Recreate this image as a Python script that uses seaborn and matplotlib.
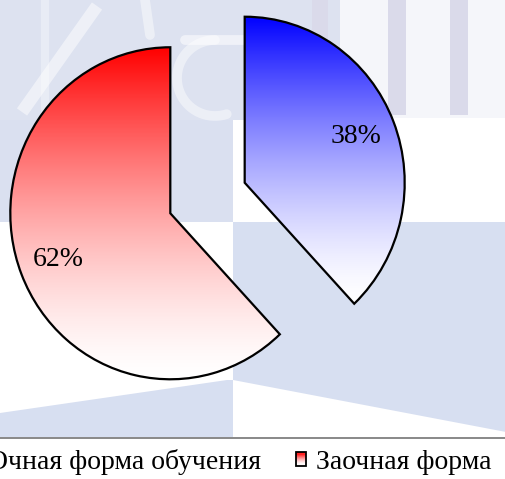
import numpy as np
import matplotlib
matplotlib.use("Agg")
import matplotlib.pyplot as plt
import seaborn as sns
from matplotlib.patches import Rectangle, Polygon
from matplotlib.legend_handler import HandlerBase
from matplotlib.colors import LinearSegmentedColormap, to_rgb

# ---- data ----
categories = ["Очная форма обучения", "Заочная форма"]
shares = [38, 62]
top_colors = ["#0000FF", "#FF0000"]

sns.set_theme(style="white")
plt.rcParams['font.family'] = ['Liberation Serif', 'DejaVu Serif']
plt.rcParams['text.color'] = 'black'

W, H = 506, 479
fig = plt.figure(figsize=(W / 100, H / 100), dpi=100)
fig.patch.set_facecolor("white")

# ---- faint watermark background (pixel coordinates) ----
bg = fig.add_axes([0, 0, 1, 1])
bg.set_xlim(0, W)
bg.set_ylim(H, 0)
bg.axis("off")
light = "#D7DFF1"
bg.add_patch(Rectangle((0, 0), 340, 120, facecolor="#DDE2F0", edgecolor="none"))
bg.add_patch(Rectangle((340, 0), 166, 118, facecolor="#F5F6FA", edgecolor="none"))
for x0, w in [(312, 16), (388, 18), (450, 18)]:
    bg.add_patch(Rectangle((x0, 0), w, 115, facecolor="#DADAEA", edgecolor="none"))
bg.add_patch(Rectangle((0, 120), 233, 102, facecolor="#DAE0F0", edgecolor="none"))
bg.add_patch(Polygon([(233, 222), (506, 222), (506, 432), (233, 380)],
                     facecolor=light, edgecolor="none"))
bg.add_patch(Polygon([(0, 413), (227, 380), (233, 380), (233, 437), (0, 437)],
                     facecolor=light, edgecolor="none"))
# white letter strokes of the watermark
bg.plot([22, 97], [112, 6], color="white", lw=9, alpha=0.5, solid_capstyle="butt")
bg.plot([45, 45], [0, 115], color="white", lw=6, alpha=0.35)
bg.plot([145, 150], [0, 35], color="white", lw=7, alpha=0.45)
bg.plot([185, 250], [40, 40], color="white", lw=7, alpha=0.55)
t = np.linspace(np.pi * 0.5, np.pi * 1.6, 40)
bg.plot(215 + 38 * np.cos(t), 78 - 38 * np.sin(t), color="white", lw=7, alpha=0.45)
bg.axhline(438, color="#7F7F7F", lw=1.3)

# ---- pie ----
ax = fig.add_axes([0, 0, 1, 1])
ax.patch.set_alpha(0)
wedges, texts, autotexts = ax.pie(
    shares, explode=[0.25, 0.25], startangle=90, counterclock=False,
    autopct="%1.0f%%", pctdistance=0.75,
    wedgeprops=dict(edgecolor="black", linewidth=1.6),
    textprops=dict(fontsize=20, color="black"))
ax.set_aspect("auto")
ax.axis("off")


def grad_cmap(col):
    c = np.array(to_rgb(col))
    s = np.linspace(0, 1, 256)[:, None] ** 1.5  # 0 -> white, 1 -> full colour
    rgb = 1 - s * (1 - c)
    return LinearSegmentedColormap.from_list("g", rgb)


grad = np.linspace(0, 1, 256).reshape(256, 1)
cmaps = []
for wdg, col in zip(wedges, top_colors):
    cmap = grad_cmap(col)
    cmaps.append(cmap)
    v = wdg.get_path().vertices
    xmin, ymin = v.min(axis=0)
    xmax, ymax = v.max(axis=0)
    im = ax.imshow(grad, extent=(xmin, xmax, ymin, ymax), origin="lower",
                   aspect="auto", cmap=cmap, zorder=1)
    im.set_clip_path(wdg)
    wdg.set_facecolor("none")
    wdg.set_zorder(2)
for tx in autotexts:
    tx.set_zorder(3)
ax.set_xlim(-207.5 / 160, (W - 207.5) / 160)
ax.set_ylim((198 - H) / 166, 198 / 166)


class GradHandler(HandlerBase):
    def __init__(self, cmap):
        super().__init__()
        self.cmap = cmap

    def create_artists(self, legend, orig_handle, xdescent, ydescent,
                       width, height, fontsize, trans):
        arts = []
        n = 12
        for i in range(n):
            y0 = -ydescent + height * i / n
            arts.append(Rectangle((-xdescent, y0), width, height / n,
                                  facecolor=self.cmap(i / (n - 1)),
                                  edgecolor="none", transform=trans))
        arts.append(Rectangle((-xdescent, -ydescent), width, height,
                              facecolor="none", edgecolor="black",
                              linewidth=1.3, transform=trans))
        return arts


leg = fig.legend(
    wedges, categories, ncol=2, loc="center right",
    bbox_to_anchor=(492 / W, 1 - 462 / H), frameon=False, fontsize=20,
    handlelength=0.36, handleheight=0.36, handletextpad=0.36,
    columnspacing=1.26, borderpad=0, borderaxespad=0,
    handler_map={wedges[0]: GradHandler(cmaps[0]), wedges[1]: GradHandler(cmaps[1])})
for txt in leg.get_texts():
    txt.set_color("black")

fig.savefig("out.png", dpi=100)
